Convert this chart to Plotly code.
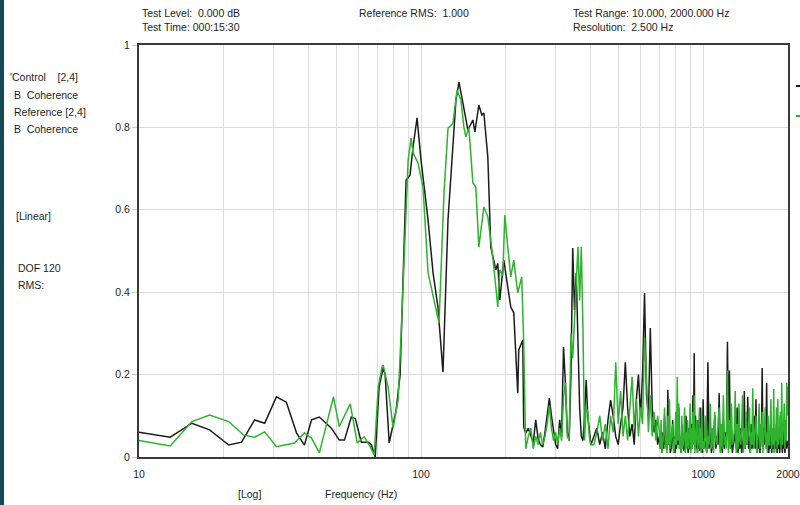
import plotly.graph_objects as go

# ---------------- data ----------------
# Control [2,4] coherence (black) - low / mid band vertices
ctrl_lo_f = [10, 12.9, 15.4, 17.8, 20.8, 23.1, 25.7, 27.9, 30.7, 33.3,
             36.2, 38.6, 40.9, 43.6, 48.1, 51.3, 53.5, 56.6, 58.5, 61.4,
             65.0, 66.6, 68.8, 71.0, 73.4, 74.6, 77.1, 81.6, 84.3, 87.1,
             88.5, 91.4, 93.7, 96.8, 100, 105.9, 110.3, 114.8, 119.6, 124.6,
             129.8, 133.0, 136.3, 141.9, 146.6, 152.7, 155.2, 160.3, 164.3, 167.0,
             172.5, 176.7, 184.1, 187.1, 190.2, 196.5, 203.0, 208.0, 213.2, 220.2,
             222.0, 229.4, 231.2, 235.0]
ctrl_lo_v = [0.06, 0.048, 0.082, 0.066, 0.029, 0.036, 0.09, 0.082, 0.146, 0.133,
             0.058, 0.029, 0.09, 0.097, 0.07, 0.041, 0.041, 0.097, 0.093, 0.036,
             0.036, 0.03, 0.0, 0.17, 0.216, 0.2, 0.034, 0.114, 0.2, 0.5,
             0.672, 0.684, 0.753, 0.823, 0.72, 0.575, 0.447, 0.364, 0.206, 0.575,
             0.762, 0.867, 0.91, 0.85, 0.794, 0.818, 0.789, 0.854, 0.83, 0.835,
             0.728, 0.51, 0.454, 0.47, 0.381, 0.478, 0.405, 0.364, 0.35, 0.155,
             0.26, 0.284, 0.073, 0.058]

# Reference [2,4] coherence (green) - low / mid band vertices
ref_lo_f = [10, 12.9, 15.4, 17.8, 20.8, 23.5, 25.7, 27.9, 30.7, 35.6,
            38.6, 40.9, 43.6, 48.9, 51.3, 56.1, 59.4, 62.9, 66.0, 68.2,
            70.5, 72.8, 73.4, 76.4, 79.6, 82.9, 85.0, 87.1, 90.0, 92.2,
            93.7, 97.6, 101.6, 105.9, 111.2, 115.8, 120.6, 124.6, 129.8, 134.1,
            138.5, 141.9, 144.2, 147.7, 152.7, 156.4, 160.3, 167.0, 172.5, 179.6,
            187.1, 190.2, 194.9, 198.1, 203.0, 208.0, 213.2, 220.2, 227.5, 231.2,
            235.0]
ref_lo_v = [0.04, 0.027, 0.086, 0.102, 0.086, 0.053, 0.048, 0.061, 0.025, 0.034,
            0.059, 0.046, 0.01, 0.146, 0.074, 0.129, 0.034, 0.049, 0.025, 0.005,
            0.17, 0.22, 0.223, 0.17, 0.07, 0.138, 0.3, 0.478, 0.72, 0.774,
            0.738, 0.713, 0.655, 0.447, 0.381, 0.325, 0.64, 0.798, 0.81, 0.89,
            0.867, 0.80, 0.777, 0.80, 0.665, 0.655, 0.51, 0.607, 0.583, 0.486,
            0.364, 0.454, 0.44, 0.587, 0.51, 0.437, 0.478, 0.398, 0.437, 0.277,
            0.02]

# High band, part 1: 240-700 Hz (shared frequency grid)
freq_hi1 = [240, 245, 250, 255, 260, 265, 270, 275, 280, 285,
            290, 295, 300, 305, 310, 315, 320, 325, 330, 335,
            340, 345, 350, 355, 360, 365, 370, 375, 380, 385,
            390, 395, 400,
            410, 420, 430, 440, 450, 460, 470, 480, 490, 500,
            510, 520, 530, 540, 550, 560, 570, 580, 590, 600,
            610, 620, 630, 640, 650, 660, 670, 680, 690, 700]
ctrl_hi1 = [0.07, 0.05, 0.035, 0.09, 0.045, 0.03, 0.024, 0.06, 0.1, 0.143,
            0.1, 0.06, 0.03, 0.02, 0.09, 0.05, 0.267, 0.18, 0.06, 0.04,
            0.2, 0.507, 0.357, 0.447, 0.252, 0.12, 0.05, 0.04, 0.1, 0.187,
            0.1, 0.06, 0.03,
            0.05, 0.07, 0.03, 0.06, 0.02, 0.09, 0.138, 0.1, 0.05, 0.03,
            0.08, 0.12, 0.23, 0.12, 0.05, 0.08, 0.03, 0.14, 0.2, 0.1,
            0.2, 0.398, 0.15, 0.1, 0.313, 0.12, 0.06, 0.09, 0.03, 0.05]
ref_hi1 = [0.05, 0.07, 0.02, 0.05, 0.03, 0.06, 0.03, 0.05, 0.08, 0.125,
           0.07, 0.04, 0.06, 0.03, 0.07, 0.04, 0.145, 0.18, 0.05, 0.04,
           0.3, 0.24, 0.33, 0.45, 0.51, 0.38, 0.51, 0.31, 0.04, 0.12,
           0.11, 0.05, 0.03,
           0.03, 0.06, 0.1, 0.04, 0.08, 0.02, 0.1, 0.06, 0.23, 0.08,
           0.16, 0.05, 0.1, 0.04, 0.12, 0.195, 0.07, 0.14, 0.05, 0.12,
           0.08, 0.29, 0.19, 0.06, 0.15, 0.05, 0.11, 0.04, 0.1, 0.06]

# High band, part 2: 705-1000 Hz
freq_hi2 = [705, 710, 715, 720, 725, 730, 735, 740, 745, 750,
            755, 760, 765, 770, 775, 780, 785, 790, 795, 800,
            805, 810, 815, 820, 825, 830, 835, 840, 845, 850,
            855, 860, 865, 870, 875, 880, 885, 890, 895, 900,
            905, 910, 915, 920, 925, 930, 935, 940, 945, 950,
            955, 960, 965, 970, 975, 980, 985, 990, 995, 1000]
ctrl_hi2 = [0.02, 0.03, 0.01, 0.06, 0.02, 0.1, 0.03, 0.04, 0.02, 0.163,
            0.03, 0.06, 0.01, 0.02, 0.04, 0.09, 0.02, 0.05, 0.01, 0.03,
            0.02, 0.07, 0.03, 0.12, 0.02, 0.04, 0.01, 0.08, 0.02, 0.03,
            0.015, 0.06, 0.02, 0.1, 0.03, 0.04, 0.01, 0.07, 0.02, 0.02,
            0.03, 0.08, 0.02, 0.15, 0.05, 0.252, 0.03, 0.1, 0.02, 0.05,
            0.01, 0.09, 0.02, 0.03, 0.015, 0.12, 0.02, 0.06, 0.01, 0.14]
ref_hi2 = [0.02, 0.09, 0.01, 0.03, 0.06, 0.12, 0.02, 0.05, 0.01, 0.1,
           0.03, 0.14, 0.02, 0.04, 0.07, 0.08, 0.01, 0.02, 0.05, 0.11,
           0.03, 0.195, 0.04, 0.13, 0.02, 0.05, 0.01, 0.1, 0.02, 0.03,
           0.06, 0.12, 0.01, 0.06, 0.02, 0.09, 0.03, 0.02, 0.07, 0.13,
           0.01, 0.07, 0.02, 0.11, 0.03, 0.15, 0.01, 0.04, 0.06, 0.09,
           0.01, 0.03, 0.05, 0.12, 0.02, 0.07, 0.01, 0.1, 0.02, 0.04]

# High band, part 3: 1010-2000 Hz
freq_hi3 = [1010, 1020, 1030, 1040, 1050, 1060, 1070, 1080, 1090, 1100,
            1110, 1120, 1130, 1140, 1150, 1160, 1170, 1180, 1190, 1200,
            1210, 1220, 1230, 1240, 1250, 1260, 1270, 1280, 1290, 1300,
            1310, 1320, 1330, 1340, 1350, 1360, 1370, 1380, 1390, 1400,
            1410, 1420, 1430, 1440, 1450, 1460, 1470, 1480, 1490, 1500,
            1510, 1520, 1530, 1540, 1550, 1560, 1570, 1580, 1590, 1600,
            1610, 1620, 1630, 1640, 1650, 1660, 1670, 1680, 1690, 1700,
            1710, 1720, 1730, 1740, 1750, 1760, 1770, 1780, 1790, 1800,
            1810, 1820, 1830, 1840, 1850, 1860, 1870, 1880, 1890, 1900,
            1910, 1920, 1930, 1940, 1950, 1960, 1970, 1980, 1990, 2000]
ctrl_hi3 = [0.02, 0.04, 0.01, 0.23, 0.02, 0.08, 0.01, 0.03, 0.05, 0.1,
            0.02, 0.05, 0.03, 0.155, 0.02, 0.04, 0.01, 0.09, 0.02, 0.06,
            0.04, 0.28, 0.05, 0.21, 0.02, 0.07, 0.01, 0.03, 0.04, 0.09,
            0.02, 0.12, 0.01, 0.04, 0.02, 0.07, 0.01, 0.03, 0.05, 0.16,
            0.02, 0.06, 0.03, 0.146, 0.02, 0.05, 0.01, 0.08, 0.02, 0.03,
            0.04, 0.1, 0.02, 0.14, 0.01, 0.05, 0.02, 0.08, 0.01, 0.03,
            0.05, 0.216, 0.02, 0.07, 0.03, 0.1, 0.04, 0.18, 0.02, 0.06,
            0.01, 0.04, 0.02, 0.09, 0.01, 0.03, 0.02, 0.07, 0.01, 0.04,
            0.02, 0.08, 0.01, 0.03, 0.02, 0.06, 0.01, 0.1, 0.02, 0.04,
            0.01, 0.07, 0.02, 0.03, 0.01, 0.05, 0.02, 0.02, 0.03, 0.04]
ref_hi3 = [0.02, 0.1, 0.01, 0.05, 0.03, 0.13, 0.02, 0.07, 0.01, 0.11,
           0.04, 0.03, 0.08, 0.12, 0.01, 0.08, 0.02, 0.15, 0.03, 0.05,
           0.02, 0.21, 0.01, 0.09, 0.02, 0.13, 0.03, 0.04, 0.06, 0.16,
           0.01, 0.08, 0.02, 0.13, 0.04, 0.03, 0.07, 0.15, 0.01, 0.07,
           0.02, 0.11, 0.03, 0.04, 0.08, 0.12, 0.01, 0.06, 0.03, 0.167,
           0.02, 0.05, 0.07, 0.1, 0.01, 0.03, 0.06, 0.13, 0.02, 0.08,
           0.03, 0.11, 0.01, 0.04, 0.07, 0.12, 0.02, 0.06, 0.01, 0.1,
           0.03, 0.03, 0.08, 0.14, 0.02, 0.07, 0.03, 0.165, 0.01, 0.05,
           0.04, 0.12, 0.02, 0.14, 0.03, 0.04, 0.06, 0.11, 0.02, 0.18,
           0.03, 0.06, 0.08, 0.13, 0.02, 0.09, 0.04, 0.18, 0.1, 0.17]

x_tick_vals = [10, 20, 30, 40, 50, 60, 70, 80, 90, 100,
               200, 300, 400, 500, 600, 700, 800, 900, 1000, 2000]
x_tick_text = ['10', '', '', '', '', '', '', '', '', '100',
               '', '', '', '', '', '', '', '', '1000', '2000']
y_tick_vals = [0, 0.2, 0.4, 0.6, 0.8, 1.0]
y_tick_text = ['0', '0.2', '0.4', '0.6', '0.8', '1']

# ---------------- figure ----------------
W, H = 800, 505
L, R, T, B = 139, 12, 45, 48
PW, PH = W - L - R, H - T - B
FONT = 'Liberation Sans, Arial, sans-serif'
TXT = '#1e1e1e'


def px(x):
    return (x - L) / PW


def py(y):
    return (H - B - y) / PH


ctrl_f = ctrl_lo_f + freq_hi1 + freq_hi2 + freq_hi3
ctrl_v = ctrl_lo_v + ctrl_hi1 + ctrl_hi2 + ctrl_hi3
ref_f = ref_lo_f + freq_hi1 + freq_hi2 + freq_hi3
ref_v = ref_lo_v + ref_hi1 + ref_hi2 + ref_hi3

fig = go.Figure()
fig.add_trace(go.Scatter(x=ctrl_f, y=ctrl_v, mode='lines', name='Control',
                         line=dict(color='#1c1c1c', width=1.5)))
fig.add_trace(go.Scatter(x=ref_f, y=ref_v, mode='lines', name='Reference',
                         line=dict(color='#2db32d', width=1.5)))

fig.update_layout(
    width=W, height=H, margin=dict(l=L, r=R, t=T, b=B, autoexpand=False),
    paper_bgcolor='white', plot_bgcolor='white', showlegend=False,
    font=dict(family=FONT, size=10.5, color=TXT),
    xaxis=dict(type='log', range=[1, 3.30103], tickmode='array',
               tickvals=x_tick_vals, ticktext=x_tick_text, automargin=False,
               showgrid=True, gridcolor='#dcdcdc', gridwidth=1,
               showline=True, linecolor='#3a3a3a', linewidth=2, mirror=True,
               ticks='', zeroline=False, ticklabelstandoff=6,
               tickfont=dict(family=FONT, size=10.5, color=TXT)),
    yaxis=dict(range=[0, 1], tickmode='array', tickvals=y_tick_vals,
               ticktext=y_tick_text, showgrid=True, gridcolor='#dcdcdc',
               gridwidth=1, showline=True, linecolor='#3a3a3a', linewidth=2,
               mirror=True, ticks='outside', ticklen=5, tickcolor='#c8c8c8',
               automargin=False, zeroline=False,
               tickfont=dict(family=FONT, size=10.5, color=TXT)),
)

texts = [
    ("Test Level:  0.000 dB", 140, 13),
    ("Test Time: 000:15:30", 140, 27),
    ("Reference RMS:  1.000", 357, 13),
    ("Test Range: 10.000, 2000.000 Hz", 571, 13),
    ("Resolution:  2.500 Hz", 571, 27),
    ("'Control    [2,4]", 8, 77),
    ("B  Coherence", 12, 95),
    ("Reference [2,4]", 12, 112),
    ("B  Coherence", 12, 129),
    ("[Linear]", 14, 216),
    ("DOF 120", 16, 268),
    ("RMS:", 16, 285),
    ("[Log]", 236, 494),
    ("Frequency (Hz)", 323, 494),
]
for t, x, y in texts:
    fig.add_annotation(text=t, x=px(x), y=py(y), xref='paper', yref='paper',
                       xanchor='left', yanchor='middle', showarrow=False,
                       font=dict(family=FONT, size=10.5, color=TXT))

# dark teal strip at left edge
fig.add_shape(type='rect', xref='paper', yref='paper', x0=px(0), x1=px(4),
              y0=py(H), y1=py(0), fillcolor='#174a55', line=dict(width=0),
              layer='above')
# cut-off legend samples at right edge
fig.add_shape(type='line', xref='paper', yref='paper', x0=px(796), x1=px(800),
              y0=py(86), y1=py(86), line=dict(color='#1c1c1c', width=2))
fig.add_shape(type='line', xref='paper', yref='paper', x0=px(796), x1=px(800),
              y0=py(116), y1=py(116), line=dict(color='#2db32d', width=2))

fig.write_html("out.html")
